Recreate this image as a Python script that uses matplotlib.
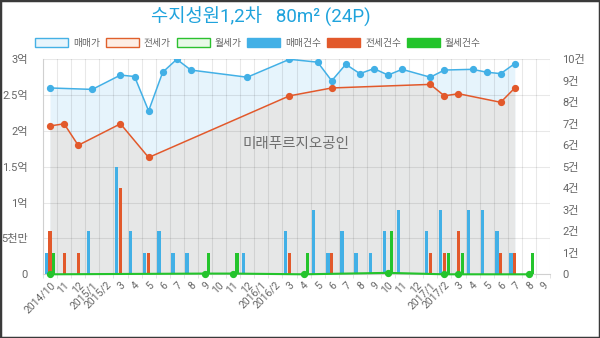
import numpy as np
import matplotlib
matplotlib.use("Agg")
import matplotlib.pyplot as plt
from matplotlib.patches import Patch, Rectangle

plt.rcParams['font.family'] = ['Roboto', 'Noto Sans CJK KR', 'DejaVu Sans']

nan = np.nan
categories = ["2014/10", "11", "12", "2015/1", "2015/2", "3", "4", "5", "6", "7", "8", "9",
              "10", "11", "12", "2016/1", "2016/2", "3", "4", "5", "6", "7", "8", "9",
              "10", "11", "12", "2017/1", "2017/2", "3", "4", "5", "6", "7", "8", "9"]

sale_price = [2.6, nan, nan, 2.58, nan, 2.78, 2.76, 2.28, 2.82, 3.0, 2.85, nan,
              nan, nan, 2.75, nan, nan, 3.0, nan, 2.96, 2.7, 2.93, 2.8, 2.87,
              2.78, 2.86, nan, 2.75, 2.85, nan, 2.86, 2.82, 2.8, 2.94, nan, nan]
jeonse_price = [2.07, 2.1, 1.8, nan, nan, 2.1, nan, 1.63, nan, nan, nan, nan,
                nan, nan, nan, nan, nan, 2.49, nan, nan, 2.6, nan, nan, nan,
                nan, nan, nan, 2.65, 2.49, 2.52, nan, nan, 2.4, 2.6, nan, nan]
wolse_price = [0.0, nan, nan, nan, nan, nan, nan, nan, nan, nan, nan, 0.01,
               nan, 0.01, nan, nan, nan, nan, 0.0, nan, nan, nan, nan, nan,
               0.02, nan, nan, nan, 0.0, 0.0, nan, nan, nan, nan, 0.0, nan]

sale_count = [1, 0, 0, 2, 0, 5, 2, 1, 2, 1, 1, 0, 0, 0, 1, 0, 0, 2, 0, 3, 1, 2, 1, 1,
              2, 3, 0, 2, 3, 0, 3, 3, 2, 1, 0, 0]
jeonse_count = [2, 1, 1, 0, 0, 4, 0, 1, 0, 0, 0, 0, 0, 0, 0, 0, 0, 1, 0, 0, 1, 0, 0, 0,
                0, 0, 0, 1, 1, 2, 0, 0, 1, 1, 0, 0]
wolse_count = [1, 0, 0, 0, 0, 0, 0, 0, 0, 0, 0, 1, 0, 1, 0, 0, 0, 0, 1, 0, 0, 0, 0, 0,
               2, 0, 0, 0, 1, 1, 0, 0, 0, 0, 1, 0]

left_ticks = [0, 0.5, 1.0, 1.5, 2.0, 2.5, 3.0]
left_labels = ["0", "5천만", "1억", "1.5억", "2억", "2.5억", "3억"]
right_ticks = list(range(0, 11))
right_labels = ["0"] + [f"{k}건" for k in range(1, 11)]

title = "수지성원1,2차   80m² (24P)"
watermark = "미래푸르지오공인"

C_SALE = '#42b0e6'
C_JEON = '#e2592b'
C_WOL = '#24c42c'
TXT = '#666666'

fig = plt.figure(figsize=(6, 3.38), dpi=100)
ax = fig.add_axes([43/600, 1-274.3/338, (550-43)/600, (274.3-59.3)/338])

x = np.arange(len(categories))

def valid(vals):
    v = np.array(vals, dtype=float)
    m = ~np.isnan(v)
    return x[m], v[m]

sx, sy = valid(sale_price)
jx, jy = valid(jeonse_price)
wx, wy = valid(wolse_price)

# fills on base axes
ax.fill_between(sx, sy, 0, color='#e6f4fc', lw=0, zorder=0.9)
ax.fill_between(jx, jy, 0, color='#e6e7e7', lw=0, zorder=1)
ax.set_xlim(-0.5, len(categories) - 0.5)
ax.set_ylim(0, 3)
ax.set_yticks(left_ticks)
ax.set_yticklabels(left_labels)
ax.set_xticks(x)
ax.set_xticklabels(categories, rotation=45, ha='right', rotation_mode='anchor')
ax.set_xticks(np.arange(-0.5, len(categories), 1), minor=True)
ax.set_axisbelow('line')
ax.grid(True, which='minor', axis='x', color='black', alpha=0.09, lw=0.8)
ax.grid(True, which='major', axis='y', color='black', alpha=0.09, lw=0.8)
ax.tick_params(axis='x', which='major', length=0, pad=4, labelsize=7.5, labelcolor=TXT)
ax.tick_params(axis='x', which='minor', length=3, color='#dddddd')
ax.tick_params(axis='y', length=0, pad=11, labelsize=8, labelcolor=TXT)
for s in ['top', 'right']:
    ax.spines[s].set_visible(False)
ax.spines['left'].set_color('#d0d0d0')
ax.spines['bottom'].set_color('#d0d0d0')
ax.text(0.5, 0.605, watermark, transform=ax.transAxes, ha='center', va='center',
        fontsize=10.5, color='#6e6e6e', zorder=3)

# bars on right axis
ax2 = ax.twinx()
bw = 0.23
off = 0.27
ax2.bar(x - off, sale_count, width=bw, color=C_SALE, lw=0)
ax2.bar(x, jeonse_count, width=bw, color=C_JEON, lw=0)
ax2.bar(x + off, wolse_count, width=bw, color=C_WOL, lw=0)
ax2.set_ylim(0, 10)
ax2.set_yticks(right_ticks)
ax2.set_yticklabels(right_labels)
ax2.tick_params(axis='y', length=0, pad=9, labelsize=8, labelcolor=TXT)
for s in ax2.spines.values():
    s.set_visible(False)

# lines on top
ax3 = ax.twinx()
ax3.set_ylim(0, 3)
ax3.set_yticks([])
for s in ax3.spines.values():
    s.set_visible(False)
ax3.plot(sx, sy, color=C_SALE, lw=1.1, marker='o', ms=4.2, mec=C_SALE, mfc=C_SALE)
ax3.plot(jx, jy, color=C_JEON, lw=1.1, marker='o', ms=4.2, mec=C_JEON, mfc=C_JEON)
ax3.plot(wx, wy, color=C_WOL, lw=1.5, marker='o', ms=4.2, mec=C_WOL, mfc=C_WOL, clip_on=False)
ax3.set_xlim(-0.5, len(categories) - 0.5)

fig.text(261/600, 0.95, title, ha='center', va='center', fontsize=13.5, color='#1fa3dc')

handles = [
    Patch(facecolor='#e8f5fc', edgecolor='#45b1e5', lw=1),
    Patch(facecolor='#fdeee5', edgecolor='#e0602c', lw=1),
    Patch(facecolor='#e8f9e8', edgecolor='#2cc12f', lw=1),
    Patch(facecolor=C_SALE, edgecolor=C_SALE),
    Patch(facecolor=C_JEON, edgecolor=C_JEON),
    Patch(facecolor=C_WOL, edgecolor=C_WOL),
]
labels = ["매매가", "전세가", "월세가", "매매건수", "전세건수", "월세건수"]
fig.legend(handles, labels, loc='center', bbox_to_anchor=(258/600, 1-43/338), ncol=6,
           frameon=False, fontsize=7, handlelength=3.4, handleheight=1.0,
           handletextpad=0.5, columnspacing=0.6, labelcolor=TXT)

fig.patches.append(Rectangle((0, 0), 1, 1, transform=fig.transFigure, fill=False,
                             edgecolor='#3a3a3a', lw=2.5))

fig.savefig('out.png', dpi=100)
